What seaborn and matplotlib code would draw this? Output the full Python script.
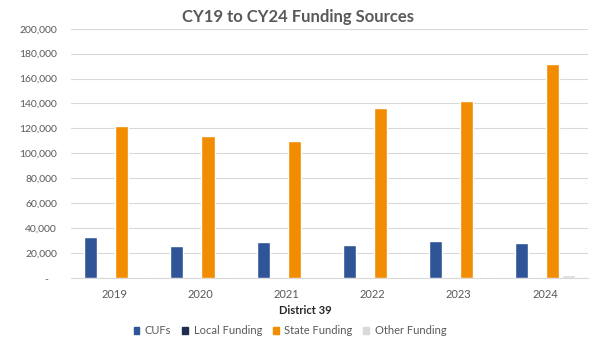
import matplotlib
matplotlib.use("Agg")
import matplotlib.pyplot as plt
from matplotlib.patches import Rectangle
from matplotlib.ticker import FuncFormatter
import seaborn as sns
import pandas as pd

years = ["2019", "2020", "2021", "2022", "2023", "2024"]
sources = ["CUFs", "Local Funding", "State Funding", "Other Funding"]
cufs = [33100, 25400, 29100, 26200, 29900, 27800]
local_funding = [0, 0, 0, 0, 0, 0]
state_funding = [122000, 113600, 110100, 136200, 142000, 172000]
other_funding = [900, 700, 0, 800, 600, 2700]
colors = ["#2F5597", "#1F2D4F", "#F28C00", "#D9D9D9"]
title = "CY19 to CY24 Funding Sources"
xlabel = "District 39"
yticks = [0, 20000, 40000, 60000, 80000, 100000, 120000, 140000, 160000, 180000, 200000]

series = [cufs, local_funding, state_funding, other_funding]
rows = []
for s, vals in zip(sources, series):
    for y, v in zip(years, vals):
        rows.append({"Year": y, "Source": s, "Value": v})
df = pd.DataFrame(rows)

sns.set_theme(style="white")
plt.rcParams["font.family"] = ["Lato", "DejaVu Sans"]
txt = "#595959"

fig = plt.figure(figsize=(6, 3.48), dpi=100)
ax = fig.add_axes([71/600, 1-278/348, (588-71)/600, (278-28.7)/348])
sns.barplot(data=df, x="Year", y="Value", hue="Source", hue_order=sources,
            order=years, palette=colors, width=0.72, gap=0.16, saturation=1,
            legend=False, ax=ax, zorder=3)

ax.set_ylim(0, 200000)
ax.set_yticks(yticks)
ax.yaxis.set_major_formatter(FuncFormatter(lambda v, p: "-   " if v == 0 else f"{v:,.0f}"))
ax.grid(axis="y", color="#D9D9D9", lw=0.8, zorder=0)
ax.set_axisbelow(True)
for s in ["top", "right", "left"]:
    ax.spines[s].set_visible(False)
ax.spines["bottom"].set_color("#D9D9D9")
ax.spines["bottom"].set_linewidth(0.8)
ax.tick_params(axis="both", length=0, labelsize=8, labelcolor=txt)
ax.tick_params(axis="y", labelsize=7.5, pad=10)
ax.tick_params(axis="x", pad=8)
ax.set_xlabel("")
ax.set_ylabel("")

fig.text(298/600, 1-17/348, title, ha="center", va="center", fontsize=12,
         fontweight="bold", color=txt)
fig.text(305/600, 1-311/348, xlabel, ha="center", va="center", fontsize=8,
         fontweight="bold", color="#262626")

handles = [Rectangle((0, 0), 1, 1, color=c) for c in colors]
fig.legend(handles, sources, loc="center", bbox_to_anchor=(290/600, 1-331/348),
           ncol=4, frameon=False, fontsize=8, labelcolor=txt,
           handlelength=0.5, handleheight=0.5, handletextpad=0.5,
           columnspacing=1.0)

fig.savefig("out.png", dpi=100)
